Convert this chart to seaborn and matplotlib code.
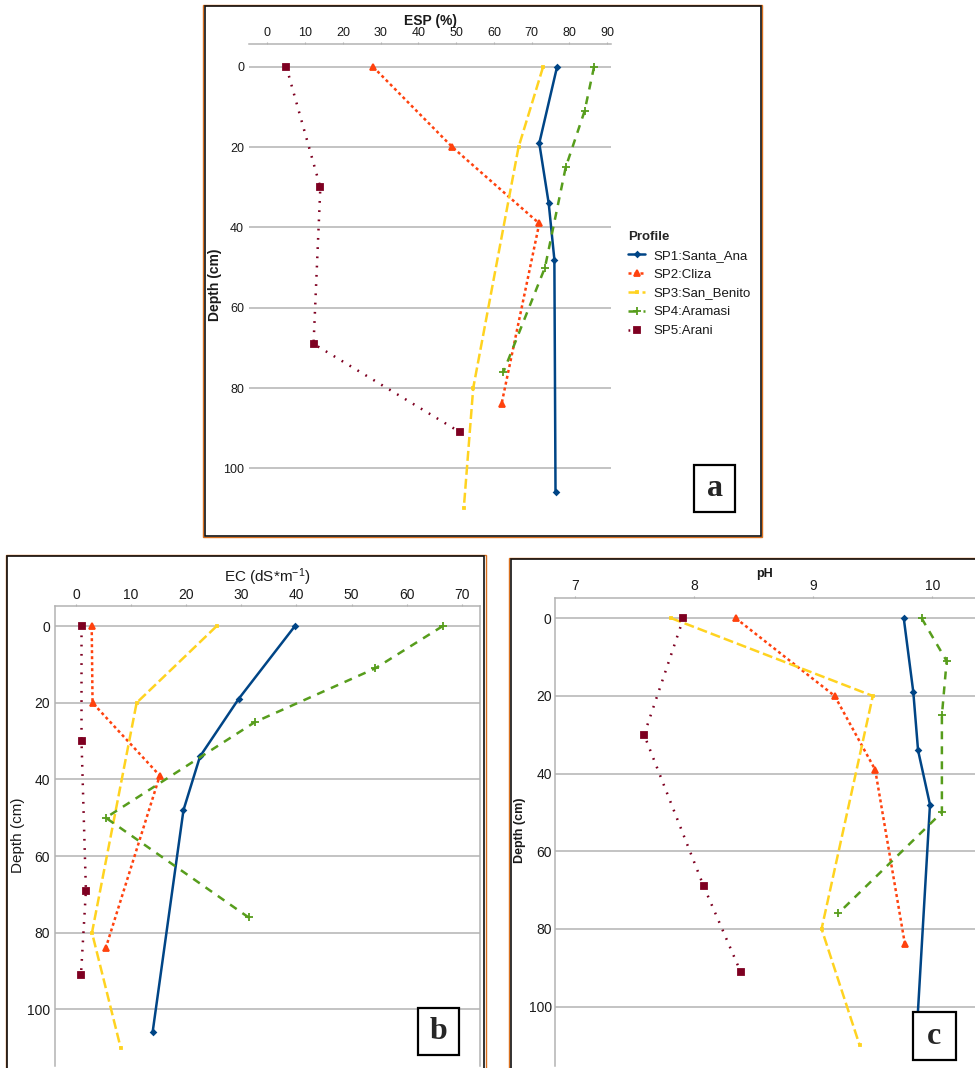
import matplotlib
matplotlib.use("Agg")
import matplotlib.pyplot as plt
import seaborn as sns
import pandas as pd
from matplotlib.patches import Rectangle

# --- Data ---
profiles = ["SP1:Santa_Ana", "SP2:Cliza", "SP3:San_Benito", "SP4:Aramasi", "SP5:Arani"]

depth_sp1 = [0, 19, 34, 48, 106]
depth_sp2 = [0, 20, 39, 84]
depth_sp3 = [0, 20, 80, 110]
depth_sp4 = [0, 11, 25, 50, 76]
depth_sp5 = [0, 30, 69, 91]

esp_sp1 = [76.7, 72.0, 74.5, 76.0, 76.3]
esp_sp2 = [28.0, 49.0, 72.0, 62.0]
esp_sp3 = [73.0, 66.5, 54.5, 52.0]
esp_sp4 = [86.5, 84.0, 79.0, 73.5, 62.5]
esp_sp5 = [5.0, 14.0, 12.2, 51.0]

ec_sp1 = [39.7, 29.5, 22.5, 19.5, 13.9]
ec_sp2 = [2.85, 3.0, 15.2, 5.4]
ec_sp3 = [25.5, 11.0, 2.9, 8.1]
ec_sp4 = [66.5, 54.3, 32.5, 5.4, 31.3]
ec_sp5 = [1.0, 1.0, 1.8, 0.9]

ph_sp1 = [9.76, 9.84, 9.88, 9.98, 9.87]
ph_sp2 = [8.35, 9.18, 9.52, 9.77]
ph_sp3 = [7.81, 9.50, 9.07, 9.39]
ph_sp4 = [9.91, 10.12, 10.08, 10.08, 9.21]
ph_sp5 = [7.91, 7.58, 8.08, 8.39]

depths = [depth_sp1, depth_sp2, depth_sp3, depth_sp4, depth_sp5]
esp = [esp_sp1, esp_sp2, esp_sp3, esp_sp4, esp_sp5]
ec = [ec_sp1, ec_sp2, ec_sp3, ec_sp4, ec_sp5]
ph = [ph_sp1, ph_sp2, ph_sp3, ph_sp4, ph_sp5]

rows = []
for name, d, v1, v2, v3 in zip(profiles, depths, esp, ec, ph):
    for i in range(len(d)):
        rows.append({"Profile": name, "Depth": d[i], "ESP": v1[i], "EC": v2[i], "pH": v3[i]})
df = pd.DataFrame(rows)

# --- Styles (LibreOffice default palette) ---
colors = ["#004586", "#ff420e", "#ffd320", "#579d1c", "#7e0021"]
linestyles = ["-", (0, (1.2, 1.2)), (0, (4, 1.6)), (0, (3.2, 2.8)), (0, (0.7, 3))]
markers = ["D", "^", "s", "+", "s"]
msizes = [2.6, 4, 2, 6, 4.5]

sns.set_style("white")
plt.rcParams["font.family"] = ["Liberation Sans", "DejaVu Sans"]
plt.rcParams["mathtext.fontset"] = "custom"
plt.rcParams["mathtext.rm"] = "Liberation Sans"
plt.rcParams["mathtext.it"] = "Liberation Sans:italic"
plt.rcParams["mathtext.bf"] = "Liberation Sans:bold"

W, H = 975, 1068
fig = plt.figure(figsize=(W / 100, H / 100), dpi=100)


def box(x0, y0, x1, y1):
    # pixel box (top-left origin) -> figure fraction
    return [x0 / W, 1 - y1 / H, (x1 - x0) / W, (y1 - y0) / H]


def frame(x0, y0, x1, y1):
    b = box(x0, y0, x1, y1)
    fig.patches.append(Rectangle((b[0], b[1]), b[2], b[3], transform=fig.transFigure,
                                 fill=False, ec="#d9701e", lw=1.0, zorder=5))
    b = box(x0 + 1.5, y0 + 1.5, x1 - 1.5, y1 - 1.5)
    fig.patches.append(Rectangle((b[0], b[1]), b[2], b[3], transform=fig.transFigure,
                                 fill=False, ec="#111111", lw=1.2, zorder=5))


frame(203, 4.5, 762, 537)
frame(5.5, 554.5, 485.5, 1080)
frame(509, 557.5, 990, 1080)

ax_a = fig.add_axes(box(249, 44.3, 611, 512))
ax_b = fig.add_axes(box(55, 605.5, 480, 1066))
ax_c = fig.add_axes(box(555, 597.7, 975, 1066))

panels = [
    (ax_a, "ESP", (-4.9, 91.0), (110.9, -5.65), range(0, 91, 10)),
    (ax_b, "EC", (-3.81, 73.3), (114.8, -5.4), range(0, 71, 10)),
    (ax_c, "pH", (6.832, 10.358), (115.3, -5.3), [7, 8, 9, 10]),
]

for ax, var, xlim, ylim, xticks in panels:
    for i, name in enumerate(profiles):
        sub = df[df["Profile"] == name]
        sns.lineplot(data=sub, x=var, y="Depth", ax=ax, sort=False, estimator=None,
                     color=colors[i], linestyle=linestyles[i], lw=1.8,
                     marker=markers[i], markersize=msizes[i], markeredgewidth=1.3,
                     markeredgecolor=colors[i], label=name, legend=False)
    ax.set_xlim(xlim)
    ax.set_ylim(ylim)
    ax.set_xticks(list(xticks))
    ax.set_yticks(range(0, 101, 20))
    ax.xaxis.tick_top()
    ax.xaxis.set_label_position("top")
    ax.set_axisbelow(True)
    ax.grid(axis="y", color="#b3b3b3", lw=1.1)
    ax.grid(axis="x", visible=False)
    for s in ax.spines.values():
        s.set_color("#b3b3b3")
        s.set_linewidth(1.1)
    ax.spines["bottom"].set_visible(False)

# panel a: only the top axis line
ax_a.spines["left"].set_visible(False)
ax_a.spines["right"].set_visible(False)
ax_c.spines["right"].set_visible(False)

txt = "#1a1a1a"
ax_a.tick_params(axis="x", length=1.5, color="#b3b3b3", pad=2, labelsize=9, labelcolor=txt)
ax_a.tick_params(axis="y", length=0, pad=3.6, labelsize=9, labelcolor=txt)
ax_b.tick_params(axis="x", length=1.5, color="#b3b3b3", pad=1, labelsize=10, labelcolor=txt)
ax_b.tick_params(axis="y", length=1.5, color="#b3b3b3", pad=2.1, labelsize=10, labelcolor=txt)
ax_c.tick_params(axis="x", length=1.5, color="#b3b3b3", pad=2, labelsize=10, labelcolor=txt)
ax_c.tick_params(axis="y", length=0, pad=2.4, labelsize=10, labelcolor=txt)

# axis titles
ax_a.set_xlabel("ESP (%)", fontsize=10, fontweight="bold", color=txt)
ax_a.xaxis.label.set_va("center")
ax_a.xaxis.set_label_coords(0.5, 1.050)
ax_b.set_xlabel("EC (dS*m$^{-1}$)", fontsize=11, color=txt)
ax_b.xaxis.label.set_va("center")
ax_b.xaxis.set_label_coords(0.499, 1.062)
ax_c.set_xlabel("pH", fontsize=9, fontweight="bold", color=txt)
ax_c.xaxis.label.set_va("center")
ax_c.xaxis.set_label_coords(0.5, 1.051)

ax_a.set_ylabel("Depth (cm)", fontsize=10, fontweight="bold", color=txt)
ax_a.yaxis.label.set_va("center")
ax_a.yaxis.set_label_coords(-0.094, 0.485)
ax_b.set_ylabel("Depth (cm)", fontsize=11, color=txt)
ax_b.yaxis.label.set_va("center")
ax_b.yaxis.set_label_coords(-0.087, 0.502)
ax_c.set_ylabel("Depth (cm)", fontsize=9, fontweight="bold", color=txt)
ax_c.yaxis.label.set_va("center")
ax_c.yaxis.set_label_coords(-0.083, 0.504)

# legend only on panel a, outside to the right
leg = ax_a.legend(handles=ax_a.get_lines(), labels=profiles, title="Profile",
                  loc="upper left", bbox_to_anchor=((628 - 249) / 362, (512 - 231) / 467.7),
                  frameon=False, fontsize=9.5, title_fontsize=9.5, handlelength=1.3,
                  handletextpad=0.6, labelspacing=0.5, borderpad=0, borderaxespad=0,
                  alignment="left")
leg.get_title().set_fontweight("bold")
for t in leg.get_texts():
    t.set_color(txt)

# panel letters
letters = {"a": (694, 465, 735, 512), "b": (418, 1008, 459, 1055), "c": (913, 1012, 956, 1060)}
for lab, (x0, y0, x1, y1) in letters.items():
    b = box(x0, y0, x1, y1)
    fig.patches.append(Rectangle((b[0], b[1]), b[2], b[3], transform=fig.transFigure,
                                 fc="white", ec="black", lw=1.6, zorder=10))
    fig.text((x0 + x1) / 2 / W, 1 - (y0 + y1) / 2 / H, lab, ha="center", va="center",
             fontsize=23, fontweight="bold", family="Liberation Serif", zorder=11)

fig.savefig("out.png", dpi=100)
